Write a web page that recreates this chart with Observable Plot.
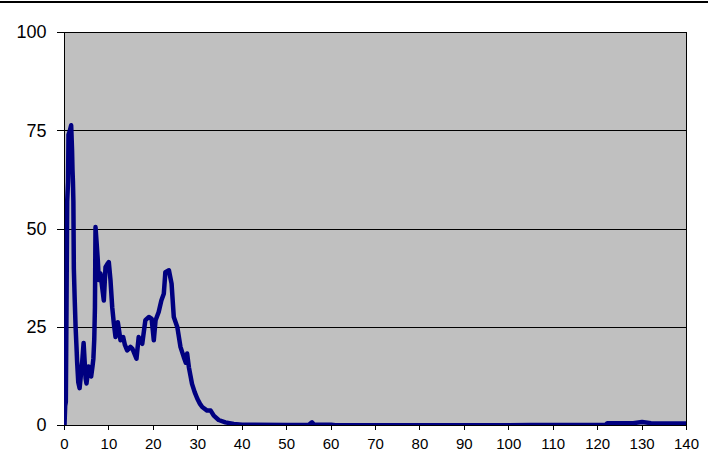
<!DOCTYPE html>
<html><head><meta charset="utf-8">
<script src="https://cdn.jsdelivr.net/npm/d3@7"></script>
<script src="https://cdn.jsdelivr.net/npm/@observablehq/plot@0.6"></script>
<style>
body{margin:0;background:#fff;}
#wrap{position:relative;width:708px;height:474px;overflow:hidden;}
#topline{position:absolute;left:0;top:1px;width:708px;height:2px;background:#000;}
#chart{position:absolute;left:0;top:0;}
</style></head><body><div id="wrap"><div id="chart"></div><div id="topline"></div></div>
<script>
const xValues = [0,0.15,0.3,0.45,0.6,0.8,0.9,1.2,1.5,1.7,1.8,1.9,2.0,2.1,2.3,2.5,2.7,2.85,3.1,3.4,3.7,4.0,4.3,4.5,4.75,4.95,5.2,5.4,5.7,6.0,6.3,6.5,6.7,6.85,6.98,7.2,7.5,7.72,8.1,8.5,8.85,9.23,9.6,9.97,10.35,10.74,11.1,11.48,11.8,12.0,12.3,12.6,13.2,13.6,14.1,14.85,15.3,15.6,16.2,16.7,17.1,17.5,18.2,19.0,19.6,19.9,20.1,20.5,21.2,21.8,22.35,22.7,23.5,24.1,24.6,25.4,26.1,26.85,27.3,27.6,28.0,28.7,29.3,29.9,30.5,31.0,32.1,32.9,33.6,34.7,36.2,38.1,40,50,55,55.7,56.2,60,61,100,105,110,117,121.8,122.2,128,130,132,140];
const yValues = [0,5,6,30,57,62,74,75,76.4,70,65,62,57,40,32,25,20,16,11,9.5,13,16.5,21,17,12,10.7,13,15,13,12.5,15,17,22,30,50.5,47,42,37,38.7,35,31.8,40.3,41,41.6,37,30.1,26,22.5,24,26.3,24,21.7,22.5,20.5,19.1,20,19.5,18.7,17,22.5,21.5,20.8,26.8,27.6,27.2,24,21.7,26.8,28.9,31.8,33.5,39,39.5,36.1,27.6,25,20,17.4,16,18.3,14.8,10.6,8.5,6.8,5.5,4.7,3.8,3.8,2.5,1.4,0.8,0.4,0.2,0.15,0.2,0.8,0.2,0.2,0.05,0.05,0.15,0.1,0.15,0.15,0.6,0.6,0.9,0.6,0.5];
const yTicks = [0,25,50,75,100];
const gridValues = [25,50,75];
const xTicks = [0,10,20,30,40,50,60,70,80,90,100,110,120,130,140];

const data = xValues.map((x,i)=>({x, y:yValues[i]}));

const chart = Plot.plot({
  width:708, height:474,
  marginLeft:64, marginRight:22, marginTop:32, marginBottom:49,
  style:{fontFamily:"'Liberation Sans', Arial, sans-serif", background:"transparent", color:"#000"},
  x:{domain:[0,140]},
  y:{domain:[0,100]},
  marks:[
    Plot.frame({fill:"#c0c0c0", stroke:null}),
    Plot.ruleY(gridValues, {stroke:"#000", strokeWidth:1, shapeRendering:"crispEdges"}),
    Plot.frame({stroke:"#000", strokeWidth:1, shapeRendering:"crispEdges"}),
    Plot.line(data, {x:"x", y:"y", stroke:"#000080", strokeWidth:4.5, strokeLinejoin:"round", strokeLinecap:"butt", clip:true}),
    Plot.axisY(yTicks, {tickSize:7, tickPadding:11, fontSize:18, label:null, stroke:"#000", shapeRendering:"crispEdges"}),
    Plot.axisX(xTicks, {tickSize:5, tickPadding:8, fontSize:15, label:null, stroke:"#000", shapeRendering:"crispEdges"})
  ]
});
document.getElementById("chart").appendChild(chart);
</script>
</body></html>
